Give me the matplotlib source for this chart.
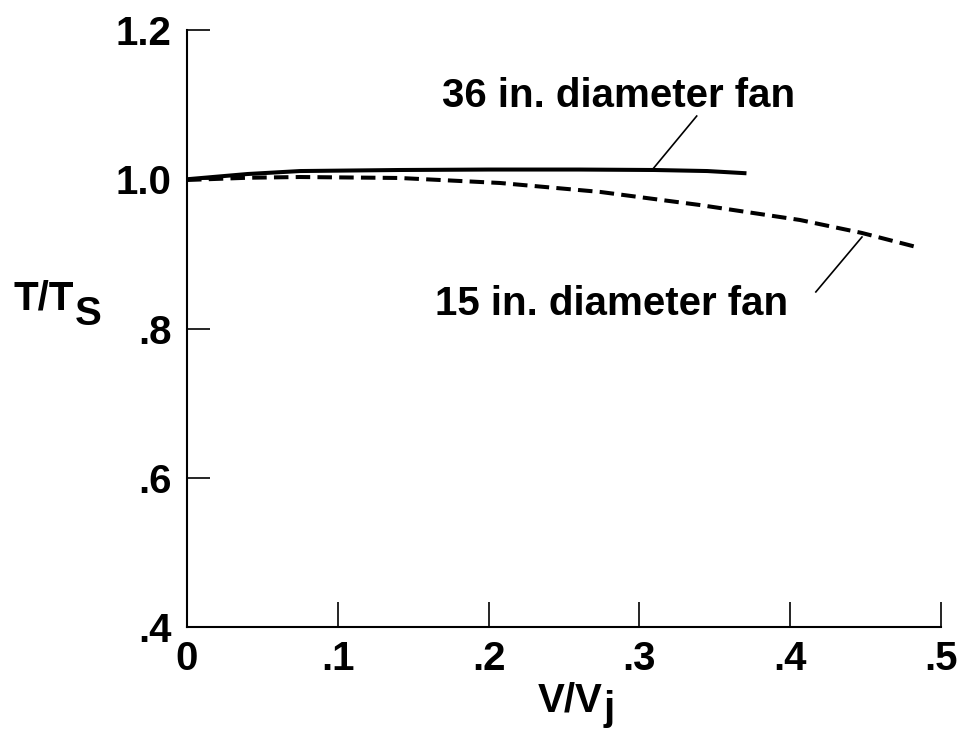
import matplotlib
matplotlib.use('Agg')
import matplotlib.pyplot as plt

# values
x_36 = [0.0, 0.04, 0.075, 0.141, 0.20, 0.26, 0.31, 0.345, 0.371]
y_36 = [1.0, 1.007, 1.011, 1.0124, 1.013, 1.013, 1.0124, 1.011, 1.008]

x_15 = [0.0, 0.04, 0.075, 0.141, 0.2076, 0.274, 0.340, 0.4065, 0.4476, 0.486]
y_15 = [0.999, 1.002, 1.003, 1.0017, 0.995, 0.983, 0.9655, 0.9454, 0.928, 0.908]

x_ticks = [0, 0.1, 0.2, 0.3, 0.4, 0.5]
x_labels = ['0', '.1', '.2', '.3', '.4', '.5']
y_ticks = [0.4, 0.6, 0.8, 1.0, 1.2]
y_labels = ['.4', '.6', '.8', '1.0', '1.2']

label_36 = '36 in. diameter fan'
label_15 = '15 in. diameter fan'

plt.rcParams['font.family'] = ['Liberation Sans', 'DejaVu Sans']
plt.rcParams['font.weight'] = 'bold'

W, H = 958, 733
FS = 29
fig = plt.figure(figsize=(W / 100, H / 100), dpi=100)
ax = fig.add_axes([187 / W, 1 - 627 / H, (941 - 187) / W, (627 - 30) / H])

ax.plot(x_36, y_36, color='black', lw=2.9, solid_capstyle='butt')
ax.plot(x_15, y_15, color='black', lw=2.9, dashes=(3.6, 1.8))

ax.set_xlim(0, 0.5)
ax.set_ylim(0.4, 1.2)
ax.set_xticks(x_ticks)
ax.set_xticklabels(x_labels)
ax.set_yticks(y_ticks)
ax.set_yticklabels(y_labels)

for s in ['top', 'right']:
    ax.spines[s].set_visible(False)
for s in ['left', 'bottom']:
    ax.spines[s].set_linewidth(1.5)

ax.tick_params(axis='x', direction='in', length=18, width=1.2, pad=9, labelsize=FS)
ax.tick_params(axis='y', direction='in', length=16.5, width=1.2, pad=11, labelsize=FS)
for t in ax.get_xticklabels() + ax.get_yticklabels():
    t.set_fontweight('bold')

# curve labels with leader lines
ax.text(0.169, 1.0968, label_36, fontsize=FS, fontweight='bold', ha='left', va='baseline')
ax.plot([0.3084, 0.338], [1.0124, 1.0847], color='black', lw=1.2)
ax.text(0.1645, 0.818, label_15, fontsize=FS, fontweight='bold', ha='left', va='baseline')
ax.plot([0.4476, 0.417], [0.9226, 0.849], color='black', lw=1.2)

# axis titles (subscripts drawn at full size, shifted down)
fig.text(13 / W, 1 - 310 / H, 'T/T', fontsize=FS, fontweight='bold', ha='left', va='baseline')
fig.text(75 / W, 1 - 325 / H, 'S', fontsize=FS, fontweight='bold', ha='left', va='baseline')
fig.text(538 / W, 1 - 712 / H, 'V/V', fontsize=FS, fontweight='bold', ha='left', va='baseline')
fig.text(604 / W, 1 - 720 / H, 'j', fontsize=FS, fontweight='bold', ha='left', va='baseline')

fig.savefig('out.png', dpi=100)
